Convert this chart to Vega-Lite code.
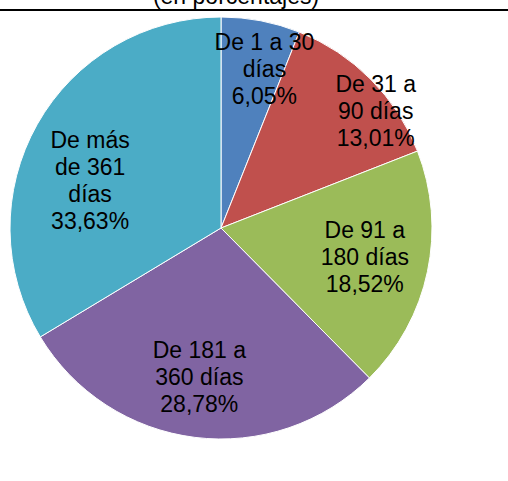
{
  "$schema": "https://vega.github.io/schema/vega-lite/v6.json",
  "width": 442,
  "height": 416,
  "autosize": {"type": "none"},
  "padding": {"top": 20, "left": 0, "right": 66, "bottom": 45},
  "config": {"view": {"stroke": null}, "font": "Liberation Sans"},
  "data": {"values": [
    {"k": "a", "o": 1, "v": 6.05, "label": ["De 1 a 30", "días", "6,05%"]},
    {"k": "b", "o": 2, "v": 13.01, "label": ["De 31 a", "90 días", "13,01%"]},
    {"k": "c", "o": 3, "v": 18.52, "label": ["De 91 a", "180 días", "18,52%"]},
    {"k": "d", "o": 4, "v": 28.78, "label": ["De 181 a", "360 días", "28,78%"]},
    {"k": "e", "o": 5, "v": 33.63, "label": ["De más", "de 361", "días", "33,63%"]}
  ]},
  "layer": [
    {
      "mark": {"type": "arc", "outerRadius": 211, "stroke": "white", "strokeWidth": 1},
      "encoding": {
        "theta": {"field": "v", "type": "quantitative", "stack": true},
        "order": {"field": "o"},
        "color": {"field": "k", "type": "nominal", "legend": null,
          "scale": {"domain": ["a", "b", "c", "d", "e"], "range": ["#4F81BD", "#C0504D", "#9BBB59", "#8064A2", "#4BACC6"]}}
      }
    },
    {
      "mark": {"type": "text", "radius": 161, "dx": 13, "dy": -27, "fontSize": 23, "lineHeight": 27, "color": "black"},
      "encoding": {
        "theta": {"field": "v", "type": "quantitative", "stack": true},
        "order": {"field": "o"},
        "text": {"condition": {"test": "datum.k === 'a'", "field": "label"}, "value": ""}
      }
    },
    {
      "mark": {"type": "text", "radius": 194, "dx": 17, "dy": -6, "fontSize": 23, "lineHeight": 27, "color": "black"},
      "encoding": {
        "theta": {"field": "v", "type": "quantitative", "stack": true},
        "order": {"field": "o"},
        "text": {"condition": {"test": "datum.k === 'b'", "field": "label"}, "value": ""}
      }
    },
    {
      "mark": {"type": "text", "radius": 147, "dy": -27, "fontSize": 23, "lineHeight": 27, "color": "black"},
      "encoding": {
        "theta": {"field": "v", "type": "quantitative", "stack": true},
        "order": {"field": "o"},
        "text": {"condition": {"test": "datum.k === 'c'", "field": "label"}, "value": ""}
      }
    },
    {
      "mark": {"type": "text", "radius": 151, "dx": -3, "dy": -27, "fontSize": 23, "lineHeight": 27, "color": "black"},
      "encoding": {
        "theta": {"field": "v", "type": "quantitative", "stack": true},
        "order": {"field": "o"},
        "text": {"condition": {"test": "datum.k === 'd'", "field": "label"}, "value": ""}
      }
    },
    {
      "mark": {"type": "text", "radius": 140, "dx": -9, "dy": -18, "fontSize": 23, "lineHeight": 27, "color": "black"},
      "encoding": {
        "theta": {"field": "v", "type": "quantitative", "stack": true},
        "order": {"field": "o"},
        "text": {"condition": {"test": "datum.k === 'e'", "field": "label"}, "value": ""}
      }
    },
    {
      "data": {"values": [{"line": "top"}]},
      "mark": {"type": "rule", "color": "black", "strokeWidth": 2},
      "encoding": {
        "x": {"datum": 0, "type": "quantitative", "scale": {"domain": [0, 1], "range": [0, 508]}, "axis": null},
        "x2": {"datum": 1},
        "y": {"value": -10}
      }
    },
    {
      "data": {"values": [{"t": "(en porcentajes)", "p": 0.4646}]},
      "mark": {"type": "text", "fontSize": 23, "baseline": "alphabetic", "align": "center", "color": "black"},
      "encoding": {
        "x": {"field": "p", "type": "quantitative", "scale": {"domain": [0, 1], "range": [0, 508]}, "axis": null},
        "y": {"value": -16},
        "text": {"field": "t"}
      }
    }
  ]
}
